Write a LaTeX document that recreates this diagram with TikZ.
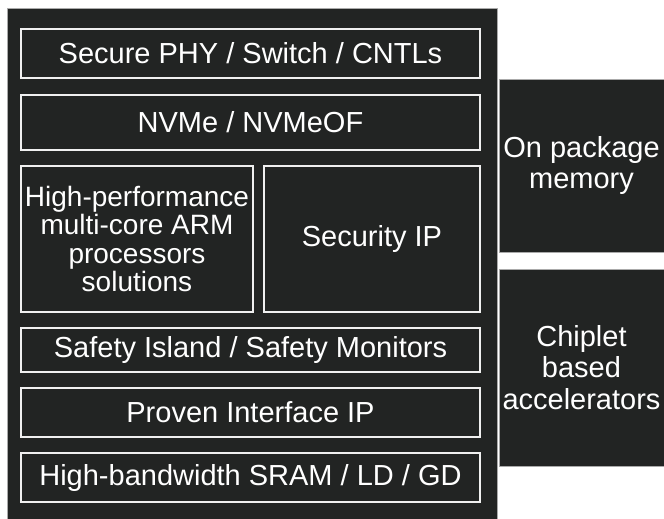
\documentclass[tikz,border=0pt]{standalone}
\usepackage{fontspec}
\setmainfont{Liberation Sans}
\usepackage{tikz}
\usetikzlibrary{positioning}
\definecolor{chipFill}{RGB}{34,36,35}
\definecolor{chipEdge}{RGB}{170,170,170}
\definecolor{layerEdge}{RGB}{240,240,240}
\tikzset{
  % one block inside the SoC; size is given per node
  layer/.style={
    draw=layerEdge, fill=chipFill, line width=2pt,
    align=center, inner sep=0pt, text=white,
    font=\fontsize{29}{31.5}\selectfont
  },
  % the dark blocks around the SoC
  chip/.style={draw=chipEdge, fill=chipFill, line width=0.6pt, inner sep=0pt},
  side/.style={chip, align=center, text=white,
    font=\fontsize{29}{31.5}\selectfont},
}

\begin{document}
\begin{tikzpicture}[x=1pt, y=-1pt]
\useasboundingbox (0,0) rectangle (664,519);

% ===========================================================================
% THE SOC: dark body with stacked blocks
% ===========================================================================
\node[chip, minimum width=490pt, minimum height=514pt] (soc) at (252,265) {};

\node[layer, minimum width=459pt, minimum height=49pt] (phy) at (250.5,53.5)
      {Secure PHY / Switch / CNTLs};
\node[layer, minimum width=459pt, minimum height=55pt] (nvme) at (250.5,122.5)
      {NVMe / NVMeOF};

\node[layer, minimum width=232pt, minimum height=146pt,
      font=\fontsize{28}{28.5}\selectfont] (arm) at (137,239)
      {High-performance\\multi-core ARM\\processors\\solutions};
\node[layer, minimum width=216pt, minimum height=146pt] (security) at (372,239)
      {Security IP};

\node[layer, minimum width=459pt, minimum height=44pt] (safety) at (250.5,350)
      {Safety Island / Safety Monitors};
\node[layer, minimum width=459pt, minimum height=49pt] (iface) at (250.5,412.5)
      {Proven Interface IP};
\node[layer, minimum width=459pt, minimum height=49pt] (sram) at (250.5,477.5)
      {High-bandwidth SRAM / LD / GD};

% ===========================================================================
% RIGHT COLUMN: package level parts
% ===========================================================================
\node[side, minimum width=165pt, minimum height=173pt] (memory) at (581.5,165.5)
      {On package\\memory};
\node[side, minimum width=165pt, minimum height=197pt] (chiplet) at (581.5,367.5)
      {Chiplet\\based\\accelerators};

\end{tikzpicture}
\end{document}
